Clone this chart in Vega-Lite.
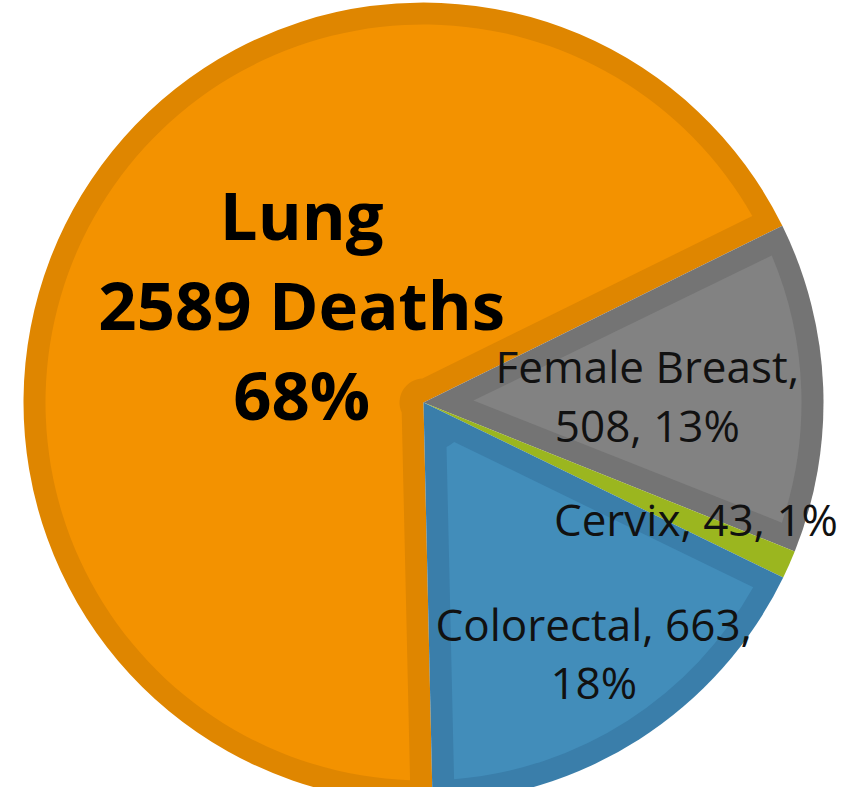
{
  "$schema": "https://vega.github.io/schema/vega-lite/v6.json",
  "width": 847,
  "height": 769,
  "autosize": "none",
  "padding": {"top": 18, "left": 0, "right": 0, "bottom": 0},
  "background": "white",
  "view": {"stroke": null},
  "data": {
    "values": [
      {"cause": "Lung", "deaths": 2589, "rank": 1, "label": ["Lung", "2589 Deaths", "68%"]},
      {"cause": "Female Breast", "deaths": 508, "rank": 2, "label": ["Female Breast,", "508, 13%"]},
      {"cause": "Cervix", "deaths": 43, "rank": 3, "label": "Cervix, 43, 1%"},
      {"cause": "Colorectal", "deaths": 663, "rank": 4, "label": ["Colorectal, 663,", "18%"]}
    ]
  },
  "encoding": {
    "theta": {"field": "deaths", "type": "quantitative", "stack": true, "scale": {"range": [3.1189, 9.4021]}},
    "order": {"field": "rank", "type": "quantitative"}
  },
  "layer": [
    {
      "mark": {"type": "arc", "outerRadius": 400, "innerRadius": 0},
      "encoding": {
        "color": {"field": "cause", "type": "nominal", "legend": null,
          "scale": {"domain": ["Lung", "Female Breast", "Cervix", "Colorectal"], "range": ["#DF8600", "#747474", "#9BB61F", "#3A7EAA"]}}
      }
    },
    {
      "mark": {"type": "arc", "outerRadius": 378, "innerRadius": 24, "padAngle": 0.1163},
      "encoding": {
        "fill": {"field": "cause", "type": "nominal", "legend": null,
          "scale": {"domain": ["Lung", "Female Breast", "Cervix", "Colorectal"], "range": ["#F39200", "#828282", "#9DBA22", "#428DBA"]}},
        "fillOpacity": {"condition": {"test": "datum.cause === 'Lung'", "value": 1}, "value": 0}
      }
    },
    {
      "mark": {"type": "arc", "outerRadius": 378, "innerRadius": 50, "padAngle": 0.1155},
      "encoding": {
        "fill": {"field": "cause", "type": "nominal", "legend": null,
          "scale": {"domain": ["Lung", "Female Breast", "Cervix", "Colorectal"], "range": ["#F39200", "#828282", "#9DBA22", "#428DBA"]}},
        "fillOpacity": {"condition": {"test": "datum.cause !== 'Lung' && datum.cause !== 'Cervix'", "value": 1}, "value": 0}
      }
    },
    {
      "mark": {"type": "text", "radius": 153, "dx": 9, "dy": -103, "font": "Open Sans", "fontWeight": "bold", "fontSize": 67, "lineHeight": 90, "align": "center", "baseline": "middle", "color": "#000000"},
      "encoding": {
        "text": {"condition": {"test": "datum.cause === 'Lung'", "field": "label"}, "value": ""}
      }
    },
    {
      "mark": {"type": "text", "radius": 224, "dx": 0, "dy": -24, "font": "Open Sans", "fontSize": 44, "lineHeight": 59, "align": "center", "baseline": "middle", "color": "#111111"},
      "encoding": {
        "text": {"condition": {"test": "datum.cause === 'Female Breast'", "field": "label"}, "value": ""}
      }
    },
    {
      "mark": {"type": "text", "radius": 298, "font": "Open Sans", "fontSize": 44, "align": "center", "baseline": "middle", "color": "#111111"},
      "encoding": {
        "text": {"condition": {"test": "datum.cause === 'Cervix'", "field": "label"}, "value": ""}
      }
    },
    {
      "mark": {"type": "text", "radius": 306, "dx": 5, "dy": -32, "font": "Open Sans", "fontSize": 44, "lineHeight": 58, "align": "center", "baseline": "middle", "color": "#111111"},
      "encoding": {
        "text": {"condition": {"test": "datum.cause === 'Colorectal'", "field": "label"}, "value": ""}
      }
    }
  ]
}
